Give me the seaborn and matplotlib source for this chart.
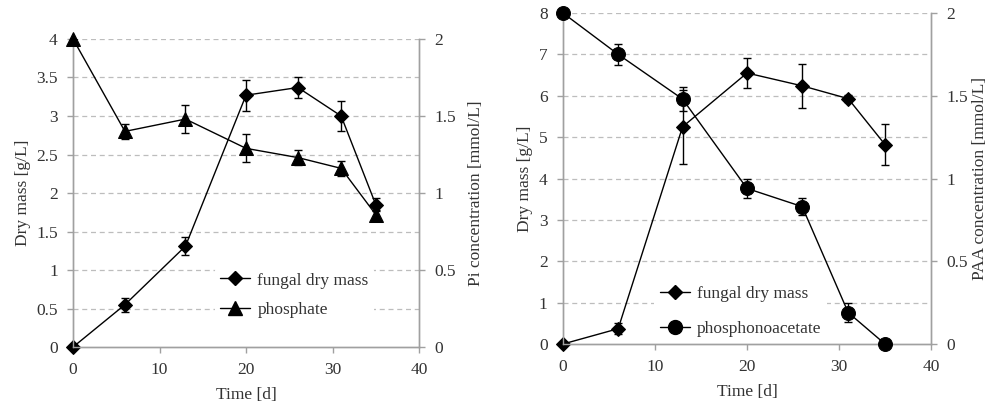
import numpy as np
import pandas as pd
import matplotlib
matplotlib.use("Agg")
import matplotlib.pyplot as plt
import seaborn as sns
from matplotlib.lines import Line2D

# left panel: phosphate experiment
time_a = [0, 6, 13, 20, 26, 31, 35]
drymass_a = [0.0, 0.55, 1.31, 3.27, 3.37, 3.0, 1.85]
drymass_a_err = [0.0, 0.09, 0.12, 0.2, 0.13, 0.2, 0.09]
phosphate = [2.0, 1.4, 1.48, 1.29, 1.23, 1.16, 0.86]
phosphate_err = [0.0, 0.05, 0.09, 0.09, 0.05, 0.05, 0.03]

# right panel: phosphonoacetate experiment
time_b = [0, 6, 13, 20, 26, 31, 35]
drymass_b = [0.0, 0.37, 5.25, 6.55, 6.24, 5.93, 4.82]
drymass_b_err = [0.0, 0.13, 0.9, 0.36, 0.53, 0.08, 0.5]
paa = [2.0, 1.75, 1.48, 0.94, 0.83, 0.19, 0.0]
paa_err = [0.0, 0.065, 0.075, 0.058, 0.053, 0.055, 0.0]

sns.set_theme(style="white")
plt.rcParams['font.family'] = ['Liberation Serif', 'DejaVu Serif']
fs = 12.5
txt = '#333333'
spine = '#a0a0a0'

fig = plt.figure(figsize=(9.95, 4.04), dpi=100)
ax1 = fig.add_axes([0.0734, 0.141, 0.3477, 0.7625])
ax2 = fig.add_axes([0.5658, 0.1485, 0.3699, 0.8193])


def panel(ax, t, dm, dm_err, conc, conc_err, ymax, ystep, conc_label,
          conc_marker, conc_ms, rpad):
    axr = ax.twinx()
    df1 = pd.DataFrame({'t': t, 'v': dm})
    df2 = pd.DataFrame({'t': t, 'v': conc})
    # dashed grid on the left axis
    for y in np.arange(ystep, ymax + 1e-9, ystep):
        ax.axhline(y, color='#bdbdbd', lw=0.9, ls=(0, (4, 3)), zorder=0)
    ax.errorbar(t, dm, yerr=dm_err, fmt='none', ecolor='black', elinewidth=1,
                capsize=3, capthick=1, zorder=2)
    sns.lineplot(data=df1, x='t', y='v', ax=ax, color='black', lw=1,
                 marker='D', markersize=7, markeredgecolor='black', zorder=3,
                 clip_on=False)
    axr.errorbar(t, conc, yerr=conc_err, fmt='none', ecolor='black', elinewidth=1,
                 capsize=3, capthick=1, zorder=2)
    sns.lineplot(data=df2, x='t', y='v', ax=axr, color='black', lw=1,
                 marker=conc_marker, markersize=conc_ms, markeredgecolor='black',
                 zorder=3, clip_on=False)
    ax.set_xlim(0, 40)
    ax.set_ylim(0, ymax)
    axr.set_ylim(0, 2)
    ax.set_xticks([0, 10, 20, 30, 40])
    yt = np.arange(0, ymax + 1e-9, ystep)
    ax.set_yticks(yt)
    ax.set_yticklabels([f'{v:g}' for v in yt])
    axr.set_yticks([0, 0.5, 1, 1.5, 2])
    axr.set_yticklabels(['0', '0.5', '1', '1.5', '2'])
    ax.set_xlabel('Time [d]', color=txt, fontsize=fs, labelpad=6)
    ax.set_ylabel('Dry mass [g/L]', color=txt, fontsize=fs, labelpad=4)
    axr.set_ylabel(conc_label, color=txt, fontsize=fs, labelpad=rpad)
    for a in (ax, axr):
        for s in a.spines.values():
            s.set_color(spine)
            s.set_linewidth(1)
        a.spines['top'].set_visible(False)
        a.tick_params(colors=txt, labelsize=fs, length=4, width=1, color=spine,
                      direction='out', pad=7)
    ax.tick_params(axis='both', left=True, bottom=True)
    axr.tick_params(axis='y', right=True)
    handles = [
        Line2D([], [], color='black', lw=1, marker='D', markersize=7),
        Line2D([], [], color='black', lw=1, marker=conc_marker, markersize=conc_ms),
    ]
    return axr, handles


def add_legend(axr, handles, labels, anchor, spacing):
    leg = axr.legend(handles, labels, loc='lower left', bbox_to_anchor=anchor,
                     frameon=True, fontsize=fs, handlelength=1.75,
                     handletextpad=0.4, labelspacing=spacing, borderpad=0.3)
    leg.get_frame().set_edgecolor('none')
    leg.get_frame().set_facecolor('white')
    leg.get_frame().set_alpha(1)
    for tx in leg.get_texts():
        tx.set_color(txt)


axr1, h1 = panel(ax1, time_a, drymass_a, drymass_a_err, phosphate, phosphate_err,
                 4, 0.5, 'Pi concentration [mmol/L]', '^', 10.5, 9)
add_legend(axr1, h1, ['fungal dry mass', 'phosphate'], (0.385, 0.05), 0.75)

axr2, h2 = panel(ax2, time_b, drymass_b, drymass_b_err, paa, paa_err,
                 8, 1, 'PAA concentration [mmol/L]', 'o', 10, 3)
add_legend(axr2, h2, ['fungal dry mass', 'phosphonoacetate'], (0.225, -0.02), 1.05)

fig.savefig('out.png', dpi=100)
